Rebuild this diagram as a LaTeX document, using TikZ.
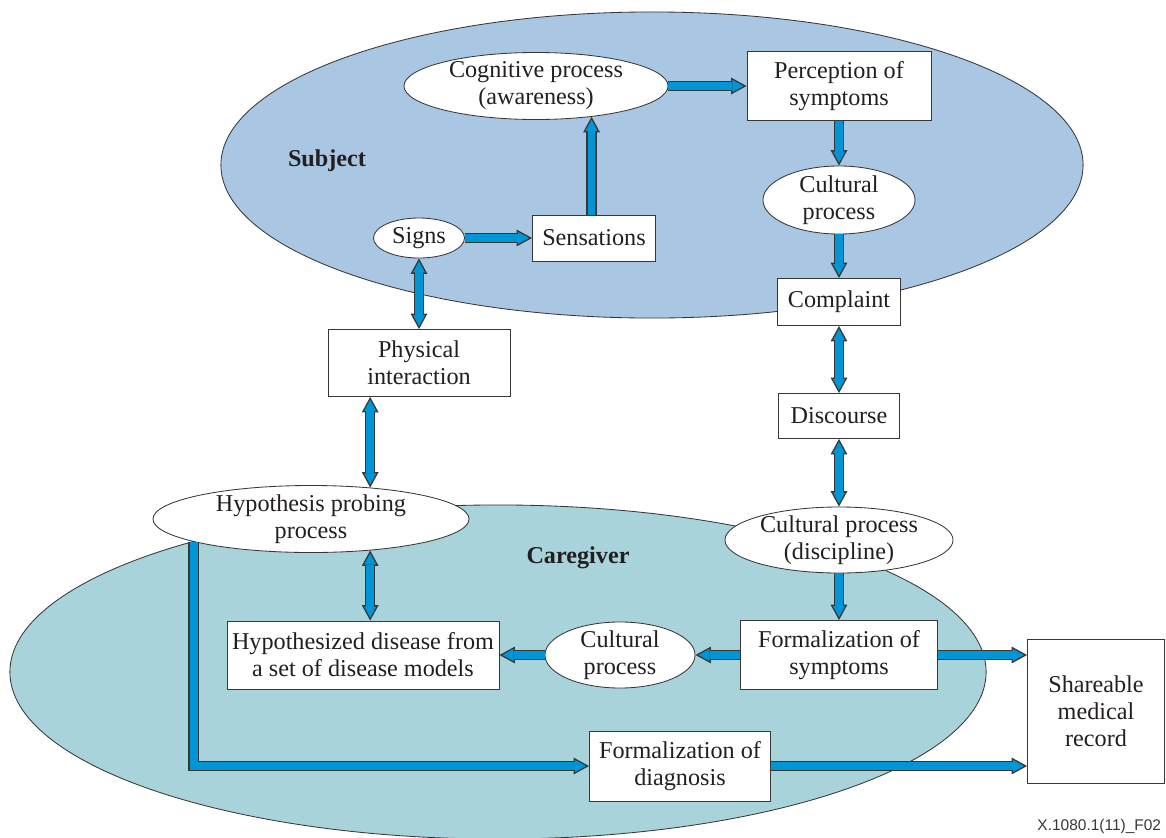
\documentclass[tikz,border=0pt]{standalone}
\usepackage{fontspec}
\setmainfont{Liberation Serif}
\setsansfont{Liberation Sans}
\usetikzlibrary{shapes.geometric,arrows.meta}
\definecolor{subjectblue}{RGB}{169,198,226}
\definecolor{carerteal}{RGB}{168,211,218}
\definecolor{flowblue}{RGB}{0,150,214}
\definecolor{edgegray}{RGB}{55,55,55}
\definecolor{inkgray}{RGB}{35,31,32}
\tikzset{box/.style={
            draw=edgegray,
            fill=white,
            line width=0.6pt,
            inner sep=0pt,
            align=center,
            text=inkgray
        },
        oval/.style={
            box,
            ellipse,
            inner ysep=-6pt
        },
        region/.style={
            draw=edgegray,
            line width=0.6pt
        },
        grouplabel/.style={
            font=\fontsize{17.2pt}{19.2pt}\selectfont\bfseries,
            text=inkgray
        },
        flow/.style={
            preaction={draw=edgegray, line width=7.5pt,
                shorten >=0pt, shorten <=0pt,
                -{Triangle[length=11pt,width=12pt,line width=0pt]}},
            draw=flowblue,
            line width=5.5pt,
            shorten >=2.1pt,
            -{Triangle[length=7.9pt,width=8.6pt,line width=0pt]}
        },
        twoway/.style={
            preaction={draw=edgegray, line width=7.5pt,
                shorten >=0pt, shorten <=0pt,
                {Triangle[length=11pt,width=12pt,line width=0pt]}-{Triangle[length=11pt,width=12pt,line width=0pt]}},
            draw=flowblue,
            line width=5.5pt,
            shorten >=2.1pt,
            shorten <=2.1pt,
            {Triangle[length=7.9pt,width=8.6pt,line width=0pt]}-{Triangle[length=7.9pt,width=8.6pt,line width=0pt]}
        }
    }

\begin{document}
\begin{tikzpicture}[x=0.025cm, y=-0.025cm, font=\fontsize{17.2pt}{19.2pt}\selectfont]
        \useasboundingbox (0,0) rectangle (1166,837);
        % the two regions
        \draw[region, fill=subjectblue] (652,165) ellipse [x radius=10.775cm, y radius=3.825cm];
        \draw[region, fill=carerteal] (498,672) ellipse [x radius=12.2cm, y radius=4.175cm];
        \node[grouplabel] (subject) at (327,161) {Subject};
        \node[grouplabel] (caregiver) at (578,558) {Caregiver};

        % subject side
        \node[oval, minimum width=6.6cm, minimum height=1.675cm] (cog) at (536,86) {Cognitive process\\(awareness)};
        \node[box, minimum width=4.6cm, minimum height=1.725cm] (percep) at (839,86) {Perception of\\symptoms};
        \node[oval, minimum width=3.8cm, minimum height=1.7cm] (cultS) at (839,200) {Cultural\\process};
        \node[oval, minimum width=2.275cm, minimum height=1cm] (signs) at (419,238) {Signs};
        \node[box, minimum width=3.075cm, minimum height=1.15cm] (sens) at (594,238) {Sensations};
        \node[box, minimum width=3.075cm, minimum height=1.175cm] (complaint) at (839,302) {Complaint};

        % in between
        \node[box, minimum width=4.55cm, minimum height=1.675cm] (phys) at (419,363) {Physical\\interaction};
        \node[box, minimum width=3.025cm, minimum height=1.125cm] (discourse) at (839,416) {Discourse};

        % caregiver side
        \node[oval, minimum width=7.9cm, minimum height=1.675cm] (hyp) at (311,519) {Hypothesis probing\\process};
        \node[oval, minimum width=5.7cm, minimum height=1.65cm] (cultD) at (839,540) {Cultural process\\(discipline)};
        \node[box, minimum width=6.8cm, minimum height=1.7cm] (hypD) at (363,655) {Hypothesized disease from\\a set of disease models};
        \node[oval, minimum width=3.75cm, minimum height=1.65cm] (cultC) at (620,655) {Cultural\\process};
        \node[box, minimum width=4.925cm, minimum height=1.725cm] (formS) at (839,655) {Formalization of\\symptoms};
        \node[box, minimum width=4.525cm, minimum height=1.75cm] (formD) at (680,766) {Formalization of\\diagnosis};
        \node[box, minimum width=3.425cm, minimum height=3.6cm] (share) at (1096,711) {Shareable\\medical\\record};

        \node[anchor=east, font=\sffamily\fontsize{11pt}{13pt}\selectfont, text=edgegray] (figno) at (1166,826) {X.1080.1(11)\_F02};

        % connectors
        \draw[flow] (cog.east) -- (percep.west);
        \draw[flow] (sens.north -| cog.-29) -- (cog.-29);
        \draw[flow] (signs) -- (sens);
        \draw[flow] (percep) -- (cultS);
        \draw[flow] (cultS) -- (complaint);
        \draw[twoway] (signs) -- (phys);
        \draw[twoway] (complaint) -- (discourse);
        \draw[twoway] (phys.south -| hyp.28) -- (hyp.28);
        \draw[twoway] (discourse) -- (cultD);
        \draw[twoway] (hyp.-28) -- (hyp.-28 |- hypD.north);
        \draw[flow] (cultD) -- (formS);
        \draw[flow] (formS) -- (cultC);
        \draw[flow] (cultC) -- (hypD);
        \draw[flow] (formS.east) -- (formS.east -| share.west);
        \draw[flow] (hyp.191.5) |- (formD.west);
        \draw[flow] (formD.east) -- (formD.east -| share.west);
    \end{tikzpicture}
\end{document}
